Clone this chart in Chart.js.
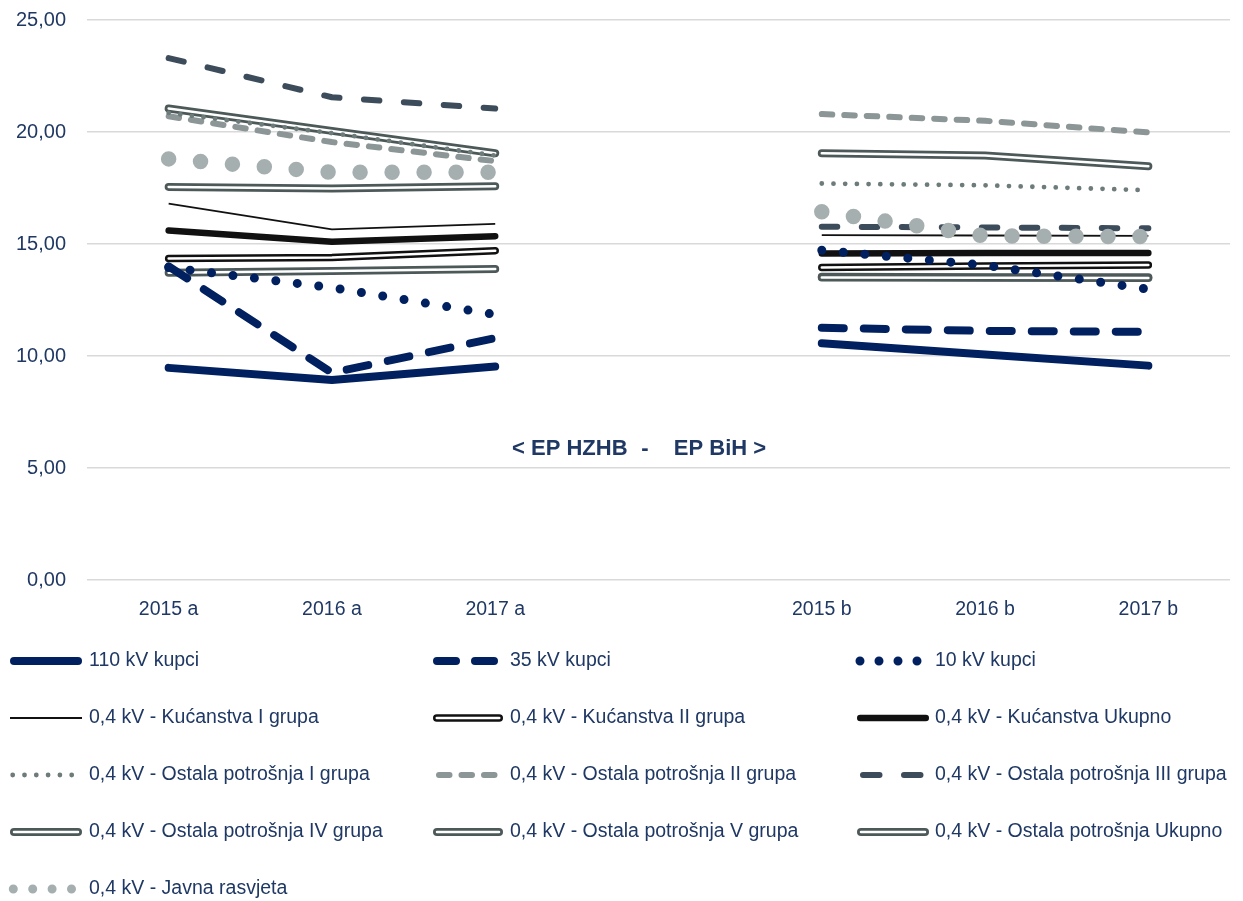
<!DOCTYPE html>
<html><head><meta charset="utf-8">
<script src="https://cdn.jsdelivr.net/npm/chart.js@4.4.1/dist/chart.umd.min.js"></script>
<style>html,body{margin:0;padding:0;background:#fff;}#wrap{width:1243px;height:901px;position:relative;}canvas{display:block;}</style>
</head><body><div id="wrap"><canvas id="c" width="1243" height="901"></canvas></div>
<script>
// ---- DATA ----
const categories = ['2015 a','2016 a','2017 a','','2015 b','2016 b','2017 b'];
const yTicks = [0, 5, 10, 15, 20, 25];
const kv110   = [9.47, 8.93, 9.53, null, 10.57, 10.07, 9.57];
const kv35    = [14.00, 9.25, 10.80, null, 11.26, 11.12, 11.08];
const kv10    = [13.95, 13.05, 11.85, null, 14.72, 14.05, 12.98];
const kucI    = [16.80, 15.65, 15.90, null, 15.40, 15.38, 15.36];
const kucII   = [14.35, 14.40, 14.70, null, 13.95, 14.02, 14.06];
const kucUk   = [15.60, 15.10, 15.35, null, 14.58, 14.60, 14.60];
const ostI    = [20.85, 19.95, 18.95, null, 17.70, 17.62, 17.40];
const ostII   = [20.70, 19.55, 18.70, null, 20.80, 20.50, 19.98];
const ostIII  = [23.30, 21.55, 21.05, null, 15.77, 15.74, 15.70];
const ostIV   = [21.05, 20.05, 19.05, null, 19.05, 18.95, 18.47];
const ostV    = [13.72, 13.80, 13.88, null, 13.54, 13.52, 13.52];
const ostUk   = [17.55, 17.48, 17.58, null, 13.50, 13.49, 13.48];
const javna   = [18.80, 18.20, 18.20, null, 16.44, 15.36, 15.33];
const seriesNames = ['110 kV kupci','35 kV kupci','10 kV kupci',
  '0,4 kV - Kućanstva I grupa','0,4 kV - Kućanstva II grupa','0,4 kV - Kućanstva Ukupno',
  '0,4 kV - Ostala potrošnja I grupa','0,4 kV - Ostala potrošnja II grupa','0,4 kV - Ostala potrošnja III grupa',
  '0,4 kV - Ostala potrošnja IV grupa','0,4 kV - Ostala potrošnja V grupa','0,4 kV - Ostala potrošnja Ukupno',
  '0,4 kV - Javna rasvjeta'];
const seriesData = [kv110, kv35, kv10, kucI, kucII, kucUk, ostI, ostII, ostIII, ostIV, ostV, ostUk, javna];
const centerText = ['< EP HZHB', '-', 'EP BiH >'];

// ---- STYLES ----
const NAVY = '#002060', TXT = '#1f3864', FONT = '"Liberation Sans", Arial, sans-serif';
const GRAYD = '#4d5959';
const styles = [
  {color:NAVY, w:8, dash:[], z:8, lg:{dash:[]}},
  {color:NAVY, w:8, dash:[22,20], z:9, lg:{dash:[19,19]}},
  {color:NAVY, w:9, dash:[0,21.6], z:11, lg:{dash:[0,19], start:3}},
  {color:'#111111', w:1.8, dash:[], z:5, cap:'butt', lg:{dash:[]}},
  {color:'#111111', w:7.5, dash:[], z:6, inner:2.5, lg:{dash:[]}},
  {color:'#111111', w:6.5, dash:[], z:7, lg:{dash:[]}},
  {color:'#6e7b7b', w:4.8, dash:[0,11.7], z:10, lg:{dash:[0,11.8], start:2.7}},
  {color:'#8c9696', w:6, dash:[10.5,12], z:0, lg:{dash:[10.5,12], start:3}},
  {color:'#3d4c5b', w:6, dash:[15.5,24.5], z:1, lg:{dash:[16.5,24.5], start:3}},
  {color:GRAYD, w:8, dash:[], z:2, inner:2.5, lg:{dash:[]}},
  {color:GRAYD, w:8, dash:[], z:3, inner:2.5, lg:{dash:[]}},
  {color:GRAYD, w:8, dash:[], z:4, inner:2.5, lg:{dash:[]}},
  {color:'#a5afaf', w:15.5, dash:[0,32], z:12, lg:{dash:[0,19.4], start:3.3, w:9}}
];
const legendCols = [{x0:10, x1:82, tx:89},{x0:433, x1:503, tx:510},{x0:857, x1:929, tx:935}];
const legendRows = [661, 718, 775, 832, 889];

const datasets = [];
seriesData.forEach((d, i) => {
  const s = styles[i];
  datasets.push({label: seriesNames[i], data: d, borderColor: s.color, borderWidth: s.w,
    borderDash: s.dash, borderCapStyle: s.cap || 'round', borderJoinStyle: 'round',
    pointRadius: 0, fill: false, tension: 0, order: 1000 - s.z * 10});
  if (s.inner) {
    datasets.push({label: seriesNames[i] + ' inner', data: d, borderColor: '#ffffff', borderWidth: s.inner,
      borderCapStyle: 'round', borderJoinStyle: 'round', pointRadius: 0, fill: false, tension: 0,
      order: 1000 - s.z * 10 - 1});
  }
});

function strokeSample(ctx, s, x0, x1, y, w, color, dash, start) {
  ctx.save();
  ctx.strokeStyle = color; ctx.lineWidth = w;
  ctx.lineCap = s.cap || 'round'; ctx.setLineDash(dash || []);
  ctx.beginPath(); ctx.moveTo(x0 + (start || 0), y); ctx.lineTo(x1, y); ctx.stroke();
  ctx.restore();
}

const overlay = {
  id: 'overlay',
  afterDraw(chart) {
    const ctx = chart.ctx;
    styles.forEach((s, i) => {
      const col = legendCols[i % 3], y = legendRows[Math.floor(i / 3)];
      const w = (s.lg && s.lg.w) || s.w;
      const hw = (s.cap === 'butt' || (s.lg.dash.length && s.lg.dash[0] === 0)) ? 0 : w / 2;
      strokeSample(ctx, s, col.x0 + hw, col.x1 - hw, y, w, s.color, s.lg.dash, s.lg.start);
      if (s.inner) strokeSample(ctx, {}, col.x0 + hw, col.x1 - hw, y, s.inner, '#ffffff', [], 0);
      ctx.save();
      ctx.fillStyle = TXT; ctx.font = '19.5px ' + FONT; ctx.textBaseline = 'middle'; ctx.textAlign = 'left';
      ctx.fillText(seriesNames[i], col.tx, y);
      ctx.restore();
    });
    ctx.save();
    ctx.fillStyle = TXT; ctx.font = 'bold 22px ' + FONT; ctx.textBaseline = 'middle';
    ctx.textAlign = 'left'; ctx.fillText(centerText[0], 512, 449);
    ctx.textAlign = 'center'; ctx.fillText(centerText[1], 645, 449);
    ctx.textAlign = 'center'; ctx.fillText(centerText[2], 720, 449);
    ctx.restore();
  }
};

new Chart(document.getElementById('c').getContext('2d'), {
  type: 'line',
  data: {labels: categories, datasets},
  options: {
    responsive: false, animation: false, devicePixelRatio: 1,
    layout: {padding: {left: 0, right: 13, top: 20, bottom: 281}},
    plugins: {legend: {display: false}, tooltip: {enabled: false}},
    scales: {
      x: {offset: true, grid: {display: false}, border: {display: false},
        ticks: {color: TXT, font: {size: 19.5, family: FONT}, padding: 10, maxRotation: 0, autoSkip: false},
        afterFit: s => { s.height = 40; s.paddingLeft = 0; s.paddingRight = 0; }},
      y: {min: 0, max: 25,
        afterBuildTicks: s => { s.ticks = yTicks.map(v => ({value: v})); },
        ticks: {color: TXT, font: {size: 20, family: FONT}, padding: 21,
          callback: v => Number(v).toFixed(2).replace('.', ',')},
        grid: {color: '#d9d9d9', lineWidth: 1.5, drawTicks: false}, border: {display: false},
        afterFit: s => { s.width = 87; s.paddingTop = 0; s.paddingBottom = 0; }}
    }
  },
  plugins: [overlay]
});
</script></body></html>
